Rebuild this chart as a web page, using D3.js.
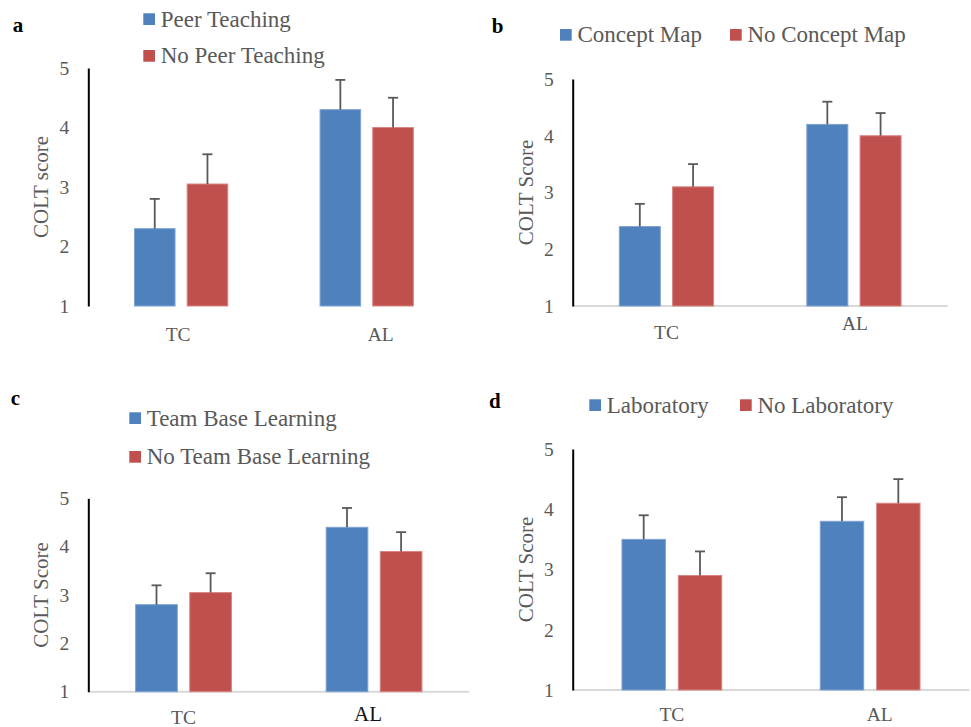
<!DOCTYPE html>
<html>
<head>
<meta charset="utf-8">
<script src="https://cdn.jsdelivr.net/npm/d3@7"></script>
<style>
  html, body { margin: 0; padding: 0; background: #fff; }
  svg { display: block; font-family: "Liberation Serif", "DejaVu Serif", serif; }
</style>
</head>
<body>
<div id="chart"></div>
<script>
// ---- data ----
const categories = ["TC", "AL"];
const yTicks = [1, 2, 3, 4, 5];
const panelLetters = ["a", "b", "c", "d"];
const yTitles = ["COLT score", "COLT Score", "COLT Score", "COLT Score"];
const legendNames = [
    ["Peer Teaching", "No Peer Teaching"],
    ["Concept Map", "No Concept Map"],
    ["Team Base Learning", "No Team Base Learning"],
    ["Laboratory", "No Laboratory"]
];
// mean COLT score per category (TC, AL)
const meansWith = [[2.3, 4.3], [2.4, 4.2], [2.8, 4.4], [3.5, 3.8]];
const meansWithout = [[3.05, 4.0], [3.1, 4.0], [3.05, 3.9], [2.9, 4.1]];
// upper error bar length
const errWith = [[0.5, 0.5], [0.4, 0.4], [0.4, 0.4], [0.4, 0.4]];
const errWithout = [[0.5, 0.5], [0.4, 0.4], [0.4, 0.4], [0.4, 0.4]];

const colors = ["#4F81BD", "#C0504D"];
const edgeColors = ["#7FA3D2", "#D88583"];

// ---- layout per panel ----
const layouts = [
    { left: 88.3, right: 459.5, top: 68, bottom: 306, baseline: false,
      letter: [12.7, 31.7], legend: [[143.3, 13.3], [143.3, 50]],
      labelDx: [-3, 14], labelY: [341, 341], labelBold: [false, false] },
    { left: 572.7, right: 947.7, top: 79, bottom: 306, baseline: true,
      letter: [491.7, 33], legend: [[560, 29], [730, 29]],
      labelDx: [0, 1], labelY: [339, 329.6], labelBold: [false, false] },
    { left: 88.3, right: 469.3, top: 498.3, bottom: 691.7, baseline: true,
      letter: [10.7, 405], legend: [[129.3, 412.3], [129.3, 451]],
      labelDx: [0, -6], labelY: [723.6, 721.3], labelBold: [false, true] },
    { left: 572.7, right: 969.3, top: 449, bottom: 690, baseline: true,
      letter: [489, 408.3], legend: [[589.3, 399.3], [740, 399.3]],
      labelDx: [0, 9.5], labelY: [721.3, 721.3], labelBold: [false, false] }
];

const width = 971, height = 727;
const svg = d3.select("#chart").append("svg")
    .attr("width", width)
    .attr("height", height);

layouts.forEach((lay, p) => {
    const g = svg.append("g").attr("class", "panel-" + panelLetters[p]);

    const x = d3.scaleBand()
        .domain(categories)
        .range([lay.left, lay.right])
        .padding(0);
    const y = d3.scaleLinear()
        .domain([1, 5])
        .range([lay.bottom, lay.top]);

    const bw = x.bandwidth() * 0.224;
    const gap = x.bandwidth() * 0.06;

    // baseline (light gray)
    if (lay.baseline) {
        g.append("line")
            .attr("x1", lay.left).attr("x2", lay.right)
            .attr("y1", y(1)).attr("y2", y(1))
            .attr("stroke", "#D9D9D9")
            .attr("stroke-width", 2);
    }

    // bars
    const series = [
        { means: meansWith[p], errs: errWith[p], offset: -gap / 2 - bw },
        { means: meansWithout[p], errs: errWithout[p], offset: gap / 2 }
    ];
    series.forEach((s, si) => {
        const rows = categories.map((c, i) => ({ cat: c, v: s.means[i], e: s.errs[i] }));
        const cx = d => x(d.cat) + x.bandwidth() / 2 + s.offset;

        g.selectAll(".bar-" + si)
            .data(rows)
            .enter()
            .append("rect")
            .attr("class", "bar-" + si)
            .attr("x", d => cx(d) + 0.5)
            .attr("y", d => y(d.v))
            .attr("width", bw - 1)
            .attr("height", d => y(1) - y(d.v))
            .attr("fill", colors[si])
            .attr("stroke", edgeColors[si])
            .attr("stroke-width", 1);

        // error bars (upper only)
        g.selectAll(".err-" + si)
            .data(rows)
            .enter()
            .append("line")
            .attr("x1", d => cx(d) + bw / 2).attr("x2", d => cx(d) + bw / 2)
            .attr("y1", d => y(d.v)).attr("y2", d => y(d.v + d.e))
            .attr("stroke", "#595959")
            .attr("stroke-width", 1.8);
        g.selectAll(".cap-" + si)
            .data(rows)
            .enter()
            .append("line")
            .attr("x1", d => cx(d) + bw / 2 - 5).attr("x2", d => cx(d) + bw / 2 + 5)
            .attr("y1", d => y(d.v + d.e)).attr("y2", d => y(d.v + d.e))
            .attr("stroke", "#595959")
            .attr("stroke-width", 1.8);
    });

    // y axis
    const yAxis = d3.axisLeft(y)
        .tickValues(yTicks)
        .tickFormat(d3.format("d"))
        .tickSize(0)
        .tickPadding(19);
    const ya = g.append("g")
        .attr("transform", `translate(${lay.left},0)`)
        .call(yAxis);
    ya.select(".domain")
        .attr("stroke", "#000")
        .attr("stroke-width", 2);
    ya.selectAll("text")
        .attr("fill", "#595959")
        .style("font-size", "19.5px")
        .style("font-family", "'Liberation Serif', serif");

    // x category labels
    g.selectAll(".xlab")
        .data(categories)
        .enter()
        .append("text")
        .attr("class", "xlab")
        .attr("x", (d, i) => x(d) + x.bandwidth() / 2 + lay.labelDx[i])
        .attr("y", (d, i) => lay.labelY[i])
        .attr("text-anchor", "middle")
        .attr("fill", (d, i) => lay.labelBold[i] ? "#111" : "#595959")
        .style("font-size", (d, i) => lay.labelBold[i] ? "21px" : "19.5px")
        .text(d => d);

    // y title
    g.append("text")
        .attr("transform", `translate(${lay.left - 40},${(lay.top + lay.bottom) / 2}) rotate(-90)`)
        .attr("text-anchor", "middle")
        .attr("fill", "#595959")
        .style("font-size", "21px")
        .text(yTitles[p]);

    // legend
    lay.legend.forEach((pos, li) => {
        g.append("rect")
            .attr("x", pos[0]).attr("y", pos[1])
            .attr("width", 11.7).attr("height", 11.7)
            .attr("fill", colors[li]);
        g.append("text")
            .attr("x", pos[0] + 17.4)
            .attr("y", pos[1] + 13.4)
            .attr("fill", "#595959")
            .style("font-size", "23px")
            .text(legendNames[p][li]);
    });

    // panel letter
    g.append("text")
        .attr("x", lay.letter[0])
        .attr("y", lay.letter[1])
        .attr("font-weight", "bold")
        .attr("fill", "#000")
        .style("font-size", "21px")
        .text(panelLetters[p]);
});
</script>
</body>
</html>
